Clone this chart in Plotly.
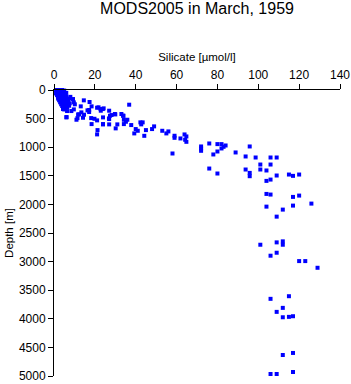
import plotly.graph_objects as go

# Silicate [µmol/l] values and depth [m] values
silicate = [
    1, 2, 3, 4, 5, 1.5, 2.5, 3.5, 4.5, 1, 2, 3, 4, 5, 6, 1.5, 2.5, 3.5, 4.5, 5.5,
    2, 3, 4, 5, 6, 2, 3, 4, 5, 6, 2.5, 3.5, 4.5, 5.5, 3, 4, 5, 6, 3.5, 4.5, 5.5,
    4, 5, 6, 4.5, 5.5, 6.5, 5, 7, 7.5, 8, 9.3, 9.7, 7.7, 7.4, 5.3, 6.4, 8.5, 4.4,
    6.1, 11.8, 13.4, 11.5, 11, 13.1, 17.4, 18.4, 16.4, 14.7, 14.2, 18.2, 19.8,
    21.8, 22.8, 24.3, 18.4, 21.3, 21.1, 26.9, 14.6, 10.2, 9.7, 6.1, 12.3, 17.2,
    17.2, 21.1, 21.1, 24, 27, 27, 29.8, 31, 33, 33.8,
    36.8, 23.9, 22.9, 27, 24, 27.4, 28.2, 30, 34, 34.2, 35.9, 35.2, 34.2, 24,
    30.2, 37.8, 42.3, 43.4, 42.7, 40, 41, 39.3, 45, 44.2, 49, 48, 53, 56, 55,
    59, 59, 63.9, 64.8, 61.9, 64.2, 64.8, 58, 72, 72, 72, 76, 80, 82, 84, 83, 82,
    80, 78, 88.9, 76, 80,
    95.8, 93.8, 98.7, 106, 109, 101, 106, 93.8, 101, 104, 95.8, 95.8, 109, 115,
    117, 120, 104, 106, 104, 106, 117, 120, 126, 104, 117, 112, 109,
    101, 109, 112, 112, 109, 106, 120, 123, 129,
    106, 115, 112, 109, 112, 115, 117, 112, 117, 106, 109, 117,
]
depth = [
    0, 0, 0, 0, 10, 30, 30, 25, 30, 60, 55, 60, 55, 60, 50, 90, 90, 85, 95, 90,
    120, 120, 125, 120, 115, 150, 155, 150, 160, 150, 180, 185, 180, 190, 215, 220, 210, 215, 250, 245, 255,
    280, 285, 275, 310, 315, 300, 340, 190, 150, 120, 158, 216, 233, 275, 310, 368, 368, 333,
    479, 427, 391, 491, 520, 286, 210, 286, 356, 432, 485, 491, 503,
    303, 333, 321, 596, 701, 776, 497, 181, 250, 339, 473, 427, 350,
    385, 310, 531, 601, 508, 601, 420, 601, 420, 450,
    257, 333, 362, 362, 479, 450, 438, 427, 450, 520, 520, 555, 596, 596,
    671, 613, 566, 566, 601, 683, 713, 759, 701, 801, 636, 683, 713, 724, 759,
    800, 836, 777, 812, 847, 870, 906, 1110, 987, 1022, 1063, 935, 946, 946, 970, 993, 1022,
    1075, 1127, 1092, 1373, 1460,
    987, 1162, 1180, 1180, 1180, 1303, 1303, 1390, 1390, 1407, 1449, 1507, 1495, 1478,
    1501, 1478, 1589, 1566, 1817, 1828, 1869, 1846, 1986, 2039, 2021, 2091, 2214,
    2705, 2664, 2646, 2705, 2845, 2897, 2991, 2991, 3108,
    3651, 3605, 3809, 3879, 3973, 3966, 3955, 4633, 4597, 4965, 4965, 4930,
]

x_ticks = [0, 20, 40, 60, 80, 100, 120, 140]
y_ticks = [0, 500, 1000, 1500, 2000, 2500, 3000, 3500, 4000, 4500, 5000]

fig = go.Figure(
    go.Scatter(
        x=silicate, y=depth, mode="markers",
        marker=dict(symbol="square", size=4, color="#0000ff", line=dict(width=0)),
        cliponaxis=False, showlegend=False,
    )
)

font_family = "Liberation Sans, Arial, sans-serif"
fig.update_layout(
    width=351, height=384,
    margin=dict(l=54, r=11, t=90, b=8),
    paper_bgcolor="white", plot_bgcolor="white",
    font=dict(family=font_family, size=12, color="black"),
    title=dict(text="MODS2005 in March, 1959", x=0.5, xref="paper", y=0.978,
               yanchor="middle", font=dict(size=16, color="black")),
)
fig.update_xaxes(
    side="top", range=[0, 140], tickvals=x_ticks, ticktext=[str(v) for v in x_ticks],
    showline=True, linecolor="black", linewidth=1, mirror=False, automargin=False,
    ticks="outside", ticklen=5, tickcolor="black", showgrid=False, zeroline=False,
    tickfont=dict(size=12),
    title=dict(text="Silicate [µmol/l]", standoff=4, font=dict(size=11.5)),
)
fig.update_yaxes(
    range=[5000, 0], tickvals=y_ticks, ticktext=[str(v) for v in y_ticks],
    showline=True, linecolor="black", linewidth=1, mirror=False, automargin=False,
    ticks="outside", ticklen=5, tickcolor="black", showgrid=False, zeroline=False,
    tickfont=dict(size=12),
    title=dict(text="Depth [m]", standoff=2, font=dict(size=11.5)),
)

fig.write_html("out.html")
